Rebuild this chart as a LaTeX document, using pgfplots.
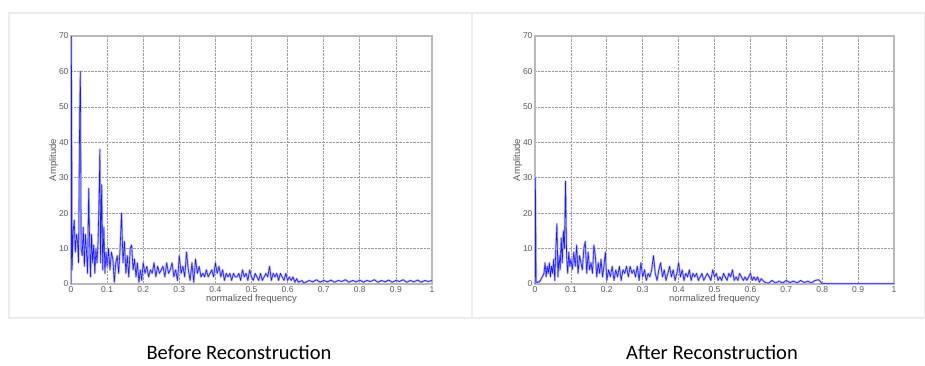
\documentclass[border=0pt]{standalone}
\usepackage{pgfplots}
\usepackage{pgfplotstable}
\usepackage{fontspec}
\setmainfont{Liberation Sans}
\newfontfamily\capfont{Carlito}
\pgfplotsset{compat=1.18}

\pgfplotstableread{
x y
0 0
0.001 70
0.003 4
0.006 15
0.009 18
0.012 9
0.015 14
0.018 12
0.021 6
0.024 48
0.026 60
0.028 10
0.031 8
0.034 16
0.037 5
0.040 14
0.043 9
0.046 3
0.049 27
0.051 15
0.054 2
0.057 14
0.060 6
0.063 11
0.066 3
0.069 10
0.072 6
0.075 12
0.078 25
0.080 38
0.082 6
0.085 28
0.088 4
0.091 16
0.094 3
0.097 9
0.100 5
0.104 10
0.108 4
0.112 9
0.116 7
0.120 0.5
0.124 6
0.128 8
0.132 3
0.136 10
0.140 20
0.144 6
0.148 12
0.152 3
0.156 8
0.160 2
0.164 10
0.168 11
0.172 4
0.176 7
0.180 2
0.184 6
0.188 0.5
0.192 4
0.196 1
0.200 6
0.205 3
0.210 5
0.215 2
0.220 4
0.225 3
0.230 6
0.235 2
0.240 5
0.245 3
0.250 4
0.255 5
0.260 2
0.265 6
0.270 3
0.275 4
0.280 6
0.285 2
0.290 4
0.295 1
0.300 8
0.305 3
0.310 5
0.315 2
0.320 9
0.325 4
0.330 1
0.335 6
0.340 0.5
0.345 7
0.350 3
0.355 5
0.360 2
0.365 3
0.370 2
0.375 4
0.380 2
0.385 3
0.390 4
0.395 2
0.400 6
0.405 3
0.410 5
0.415 2
0.420 4
0.425 1
0.430 3
0.435 2
0.440 3
0.445 1
0.450 3
0.455 2
0.460 2
0.465 3
0.470 1
0.475 4
0.480 2
0.485 3
0.490 1
0.495 4
0.500 2
0.505 1
0.510 3
0.515 2
0.520 1
0.525 3
0.530 1
0.535 2
0.540 3
0.545 2
0.550 5
0.555 1
0.560 3
0.565 2
0.570 3
0.575 1
0.580 3
0.585 2
0.590 1
0.595 3
0.600 1
0.605 2
0.610 1
0.615 2
0.620 0.5
0.625 1.5
0.630 0.5
0.640 1
0.645 0.2
0.650 0.5
0.660 1
0.670 0.6
0.680 1.2
0.690 0.5
0.700 1
0.710 0.6
0.720 1.1
0.730 0.5
0.740 1
0.750 0.7
0.760 1.2
0.770 0.5
0.780 1
0.790 0.6
0.800 1.1
0.810 0.5
0.820 1
0.830 0.7
0.840 1.2
0.850 0.5
0.860 1
0.870 0.6
0.880 1.1
0.890 0.5
0.900 1
0.910 0.7
0.920 1.2
0.930 0.5
0.940 1
0.950 0.6
0.960 1.1
0.970 0.5
0.980 1
0.990 0.7
1.000 1
}\before

\pgfplotstableread{
x y
0 0
0.001 30
0.003 0.5
0.010 0.5
0.015 1
0.020 2
0.025 3
0.028 6
0.031 2
0.034 5
0.037 3
0.040 6
0.043 2
0.046 5
0.049 3
0.052 7
0.055 1
0.058 10
0.061 17
0.064 2
0.067 8
0.070 4
0.073 13
0.076 6
0.079 15
0.082 10
0.085 29
0.088 8
0.091 3
0.094 9
0.097 5
0.100 7
0.104 4
0.108 9
0.112 5
0.116 11
0.120 3
0.124 8
0.128 6
0.132 4
0.136 10
0.140 12
0.144 3
0.148 9
0.152 4
0.156 6
0.160 3
0.164 11
0.168 8
0.172 2
0.176 6
0.180 3
0.184 7
0.188 2
0.192 5
0.196 9
0.200 1
0.205 4
0.210 2
0.215 5
0.220 1
0.225 4
0.230 2
0.235 5
0.240 1
0.245 4
0.250 3
0.255 5
0.260 2
0.265 5
0.270 3
0.275 4
0.280 2
0.285 5
0.290 1
0.295 6
0.300 2
0.305 4
0.310 1
0.315 3
0.320 2
0.325 4
0.330 8
0.335 3
0.340 1
0.345 4
0.350 6
0.355 2
0.360 4
0.365 1
0.370 3
0.375 5
0.380 2
0.385 4
0.390 1
0.395 3
0.400 6
0.405 2
0.410 4
0.415 1
0.420 3
0.425 2
0.430 4
0.435 1
0.440 3
0.445 2
0.450 3
0.455 1
0.460 2
0.465 3
0.470 1
0.475 2
0.480 3
0.485 2
0.490 1
0.495 4
0.500 2
0.505 3
0.510 1
0.515 2
0.520 1
0.525 3
0.530 2
0.535 1
0.540 3
0.545 2
0.550 4
0.555 1
0.560 2
0.565 1
0.570 3
0.575 2
0.580 1
0.585 2
0.590 1
0.595 2
0.600 3
0.605 1
0.610 2
0.615 1
0.620 2
0.625 0.5
0.630 1.5
0.640 0.5
0.650 0.2
0.660 1
0.670 0.3
0.680 0.8
0.690 0.3
0.700 1
0.710 0.4
0.720 0.8
0.730 0.3
0.740 1
0.750 0.4
0.760 0.8
0.770 0.3
0.780 1
0.790 1.2
0.800 0.1
0.850 0.1
0.900 0.1
0.950 0.1
1.000 0.1
}\after

\pgfplotsset{
  specstyle/.style={
    scale only axis,
    width=360pt, height=248pt,
    xmin=0, xmax=1, ymin=0, ymax=70,
    xtick={0,0.1,...,1}, ytick={0,10,...,70},
    xticklabels={0,0.1,0.2,0.3,0.4,0.5,0.6,0.7,0.8,0.9,1},
    grid=major,
    major grid style={densely dotted, gray!75, line width=0.7pt},
    axis line style={gray!55, line width=1.3pt},
    tick style={draw=none},
    tick label style={font=\fontsize{8.5}{9}\selectfont, text=gray!70!black},
    label style={font=\fontsize{9.5}{10}\selectfont, text=gray!70!black},
    xlabel={normalized frequency},
    ylabel={Amplitude},
    xlabel style={yshift=5pt},
    ylabel style={yshift=-6pt},
    xticklabel style={yshift=1pt},
    yticklabel style={xshift=1pt},
    /pgf/number format/assume math mode=true,
    clip=true,
  },
  halo/.style={color=blue!30, line width=2pt, line join=round},
  core/.style={color=blue!90, line width=0.6pt, line join=round},
}

\begin{document}
\begin{tikzpicture}[x=1pt,y=1pt]
\useasboundingbox (0,0) rectangle (925,365);
\draw[gray!15, line width=1.2pt] (9,47) rectangle (924.4,352);
\draw[gray!15, line width=1.2pt] (472,47) -- (472,352);

\begin{axis}[specstyle, at={(71pt,81pt)}, anchor=south west, width=361pt]
\addplot[halo] table[x=x,y=y] {\before};
\addplot[core] table[x=x,y=y] {\before};
\end{axis}

\begin{axis}[specstyle, at={(535pt,81pt)}, anchor=south west, width=359pt]
\addplot[halo] table[x=x,y=y] {\after};
\addplot[core] table[x=x,y=y] {\after};
\end{axis}

\node[font=\capfont\fontsize{20.5}{22}\selectfont, anchor=base, inner sep=0pt] at (239,6) {Before Reconstruction};
\node[font=\capfont\fontsize{20.5}{22}\selectfont, anchor=base, inner sep=0pt] at (712,6) {After Reconstruction};
\end{tikzpicture}
\end{document}
